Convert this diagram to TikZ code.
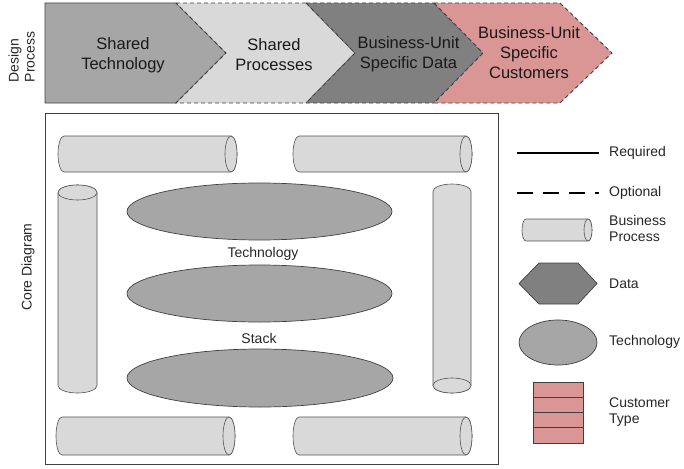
\documentclass[tikz,border=0pt]{standalone}
\usepackage{fontspec}
\setmainfont{Liberation Sans}
\definecolor{gA}{HTML}{A6A6A6}
\definecolor{gB}{HTML}{D9D9D9}
\definecolor{gC}{HTML}{808080}
\definecolor{pinkC}{HTML}{D99694}
\definecolor{lineC}{HTML}{404040}
\tikzset{
  chev/.style={draw=lineC, line width=0.9pt},
  dashchev/.style={chev, dash pattern=on 4pt off 3pt},
  chevtext/.style={font=\fontsize{16.5}{20}\selectfont, align=center, text=black!90},
  cylstyle/.style={fill=gB, draw=lineC!90, line width=0.6pt},
  techell/.style={fill=gA, draw=lineC, line width=0.7pt},
  lbl/.style={font=\fontsize{14}{16}\selectfont, text=black!85},
  leglbl/.style={lbl, anchor=west, align=left, inner xsep=0pt},
}
\newcommand\HCyl[4]{%
  \pgfmathsetmacro\cry{(#4-#3)/2}%
  \pgfmathsetmacro\cym{(#3+#4)/2}%
  \filldraw[cylstyle] (#2-6,#3) -- (#1+6,#3) arc[start angle=90,end angle=270,x radius=6pt,y radius=\cry pt] -- (#2-6,#4) arc[start angle=-90,end angle=90,x radius=6pt,y radius=\cry pt] -- cycle;
  \draw[cylstyle] (#2-6,\cym) ellipse[x radius=6pt,y radius=\cry pt];
}
% #1 x1, #2 x2, #3 y1, #4 y2, #5 1=face top, 0=face bottom
\newcommand\VCyl[5]{%
  \pgfmathsetmacro\crx{(#2-#1)/2}%
  \pgfmathsetmacro\cxm{(#1+#2)/2}%
  \filldraw[cylstyle] (#1,#3+7.5) arc[start angle=180,end angle=0,x radius=\crx pt,y radius=7.5pt] -- (#2,#4-7.5) arc[start angle=0,end angle=-180,x radius=\crx pt,y radius=7.5pt] -- cycle;
  \ifnum#5=1
    \draw[cylstyle] (\cxm,#3+7.5) ellipse[x radius=\crx pt,y radius=7.5pt];
  \else
    \draw[cylstyle] (\cxm,#4-7.5) ellipse[x radius=\crx pt,y radius=7.5pt];
  \fi
}
\begin{document}
\begin{tikzpicture}[x=1pt,y=-1pt]
\useasboundingbox (0,0) rectangle (684,468);
% ---------- Design process chevrons ----------
\filldraw[chev, fill=gA] (45,3) -- (176,3) -- (226,53) -- (176,103) -- (45,103) -- cycle;
\filldraw[dashchev, fill=gB] (176,3) -- (306,3) -- (355,53) -- (306,103) -- (176,103) -- (226,53) -- cycle;
\filldraw[dashchev, fill=gC] (306,3) -- (434,3) -- (483,53) -- (434,103) -- (306,103) -- (355,53) -- cycle;
\filldraw[dashchev, fill=pinkC] (434,3) -- (560,3) -- (612,53) -- (560,103) -- (434,103) -- (483,53) -- cycle;
\node[chevtext] (t1) at (123,55) {Shared\\Technology};
\node[chevtext] (t2) at (274,55) {Shared\\Processes};
\node[chevtext] (t3) at (408.5,54) {Business-Unit\\Specific Data};
\node[chevtext] (t4) at (529,53) {Business-Unit\\Specific\\Customers};
\node[lbl, rotate=90, align=left] (dp) at (21.5,57) {Design\\Process};
% ---------- Core diagram ----------
\draw[draw=lineC, line width=0.9pt] (45,113) rectangle (498,464);
\node[lbl, rotate=90] (cd) at (28,267) {Core Diagram};
\HCyl{58}{237}{136}{172}
\HCyl{293}{472}{136}{172}
\HCyl{56}{235}{417}{455}
\HCyl{293}{472}{417}{455}
\VCyl{58}{97}{185}{393}{1}
\VCyl{433}{471}{184}{393}{0}
\draw[techell] (259.5,211.5) ellipse[x radius=132.5pt, y radius=28.5pt];
\draw[techell] (259.5,293.5) ellipse[x radius=132.5pt, y radius=28.5pt];
\draw[techell] (260,378) ellipse[x radius=133pt, y radius=29pt];
\node[lbl] (tech) at (263,254) {Technology};
\node[lbl] (stack) at (259,338) {Stack};
% ---------- Legend ----------
\coordinate (r1) at (517,153); \coordinate (r2) at (599,153);
\draw[black, line width=1.2pt] (r1) -- (r2);
\coordinate (o1) at (517,193); \coordinate (o2) at (599,193);
\draw[black, line width=1.2pt, dash pattern=on 16pt off 10pt] (o1) -- (o2);
\node[leglbl] (lreq) at (609,153) {Required};
\node[leglbl] (lopt) at (609,193) {Optional};
\filldraw[cylstyle] (588,219) -- (526,219) arc[start angle=90,end angle=270,x radius=4pt,y radius=11pt] -- (588,241) arc[start angle=-90,end angle=90,x radius=4pt,y radius=11pt] -- cycle;
\draw[cylstyle] (588,230) ellipse[x radius=4pt,y radius=11pt];
\node[leglbl] (lbp) at (609,228.5) {Business\\Process};
\filldraw[fill=gC, draw=lineC, line width=0.7pt] (519,283.5) -- (539,263) -- (578,263) -- (597,283.5) -- (578,304) -- (539,304) -- cycle;
\node[leglbl] (ldata) at (609,284) {Data};
\draw[techell] (558,342.5) ellipse[x radius=39pt, y radius=22.5pt];
\node[leglbl] (ltech) at (609,342) {Technology};
\filldraw[fill=pinkC, draw=lineC, line width=0.7pt] (533,382) rectangle (583,443);
\draw[lineC, line width=0.7pt] (533,397.25) -- (583,397.25) (533,412.5) -- (583,412.5) (533,427.75) -- (583,427.75);
\node[leglbl] (lcust) at (609,412) {Customer\\Type};
\end{tikzpicture}
\end{document}
